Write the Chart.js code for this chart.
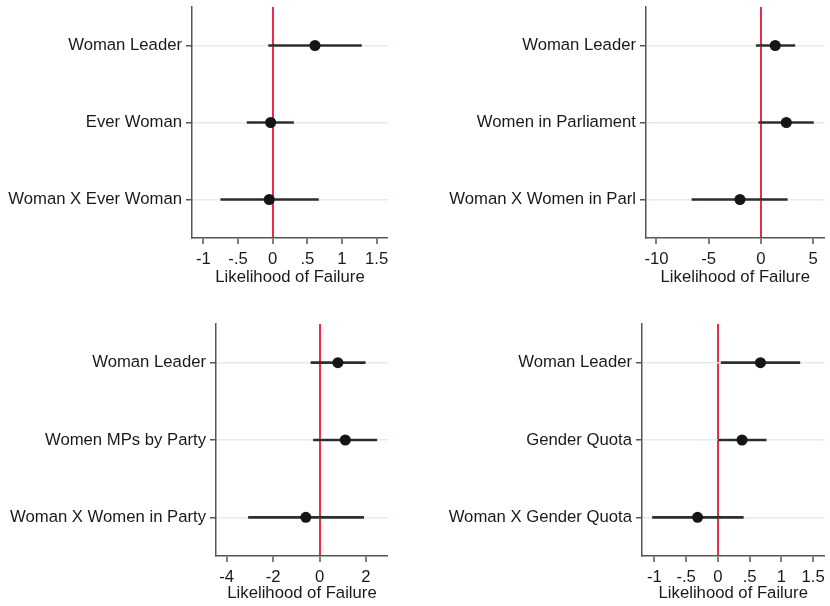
<!DOCTYPE html>
<html>
<head>
<meta charset="utf-8">
<script src="https://cdn.jsdelivr.net/npm/chart.js@4.4.1/dist/chart.umd.min.js"></script>
<style>
  html, body { margin: 0; padding: 0; background: #fff; }
  #wrap { position: relative; width: 830px; height: 606px; }
  #wrap canvas { position: absolute; }
</style>
</head>
<body>
<div id="wrap">
  <canvas id="c1" width="415" height="300" style="left:0;top:0"></canvas>
  <canvas id="c2" width="415" height="300" style="left:415px;top:0"></canvas>
  <canvas id="c3" width="415" height="306" style="left:0;top:300px"></canvas>
  <canvas id="c4" width="415" height="306" style="left:415px;top:300px"></canvas>
</div>
<script>
// --- data ---
const labels1 = ["Woman Leader", "Ever Woman", "Woman X Ever Woman"];
const est1 = [0.61, -0.03, -0.05];
const lo1  = [-0.06, -0.37, -0.75];
const hi1  = [1.28, 0.30, 0.66];
const ticks1 = [-1, -0.5, 0, 0.5, 1, 1.5];

const labels2 = ["Woman Leader", "Women in Parliament", "Woman X Women in Parl"];
const est2 = [1.38, 2.44, -2.0];
const lo2  = [-0.44, -0.19, -6.6];
const hi2  = [3.26, 5.04, 2.54];
const ticks2 = [-10, -5, 0, 5];

const labels3 = ["Woman Leader", "Women MPs by Party", "Woman X Women in Party"];
const est3 = [0.79, 1.11, -0.59];
const lo3  = [-0.37, -0.26, -3.06];
const hi3  = [1.97, 2.47, 1.90];
const ticks3 = [-4, -2, 0, 2];

const labels4 = ["Woman Leader", "Gender Quota", "Woman X Gender Quota"];
const est4 = [0.67, 0.38, -0.32];
const lo4  = [0.05, 0.005, -1.03];
const hi4  = [1.29, 0.76, 0.40];
const ticks4 = [-1, -0.5, 0, 0.5, 1, 1.5];

const xTitle = "Likelihood of Failure";

const FONT = "'Liberation Sans', Arial, sans-serif";
const TXT = "#1a1a1a";
const AXIS = "#555";
const RED = "#ec2a4b";
const GRID = "#e2eeee";
const MARK = "#151515";

const fmt = (v) => v === 0 ? "0" : String(v).replace(/^(-?)0\./, "$1.");

function coefPlot(id, labels, est, lo, hi, ticks, lay) {
  const ctx = document.getElementById(id).getContext("2d");
  const H = ctx.canvas.height, W = ctx.canvas.width;
  return new Chart(ctx, {
    type: "bar",
    data: {
      labels: labels,
      datasets: [{
        type: "bar",
        data: labels.map((_, i) => [lo[i], hi[i]]),
        backgroundColor: "#2e2e2e",
        barThickness: 2,
        borderWidth: 0,
        order: 2
      }, {
        type: "line",
        data: est,
        showLine: false,
        pointRadius: 5.5,
        pointBackgroundColor: MARK,
        pointBorderColor: MARK,
        pointBorderWidth: 0,
        order: 1
      }]
    },
    options: {
      indexAxis: "y",
      responsive: false,
      animation: false,
      layout: { padding: { left: 0, top: lay.top, right: W - lay.right, bottom: H - lay.scaleBottom } },
      plugins: { legend: { display: false }, tooltip: { enabled: false } },
      scales: {
        x: {
          type: "linear",
          min: lay.min, max: lay.max,
          afterBuildTicks: (s) => { s.ticks = ticks.map(v => ({ value: v })); },
          afterFit: (s) => { s.height = lay.scaleBottom - lay.bottom; s.paddingLeft = 0; s.paddingRight = 0; },
          border: { display: true, color: AXIS, width: 1.5 },
          grid: {
            color: (c) => c.tick && c.tick.value === 0 ? RED : "rgba(0,0,0,0)",
            lineWidth: (c) => c.tick && c.tick.value === 0 ? 2 : 0,
            tickColor: AXIS, tickLength: 6, tickWidth: 1.5
          },
          ticks: { color: TXT, font: { family: FONT, size: 16.7 }, padding: 5, maxRotation: 0, callback: (v) => fmt(v) },
          title: { display: true, text: xTitle, color: TXT, font: { family: FONT, size: 16.7 }, padding: 0 }
        },
        y: {
          type: "category",
          offset: true,
          afterFit: (s) => { s.width = lay.axisX; s.paddingTop = 0; s.paddingBottom = 0; },
          border: { display: true, color: AXIS, width: 1.5 },
          grid: { offset: false, color: GRID, lineWidth: 1.5, tickColor: AXIS, tickLength: 6, tickWidth: 1.5 },
          ticks: { color: TXT, font: { family: FONT, size: 16.7 }, padding: 4 }
        }
      }
    }
  });
}

coefPlot("c1", labels1, est1, lo1, hi1, ticks1,
  { axisX: 192, top: 7, right: 388, bottom: 238, scaleBottom: 287, min: -1.165, max: 1.664 });
coefPlot("c2", labels2, est2, lo2, hi2, ticks2,
  { axisX: 231, top: 7, right: 413, bottom: 238, scaleBottom: 287, min: -11.0, max: 6.1 });
coefPlot("c3", labels3, est3, lo3, hi3, ticks3,
  { axisX: 216, top: 24, right: 388, bottom: 256, scaleBottom: 303.5, min: -4.46, max: 2.95 });
coefPlot("c4", labels4, est4, lo4, hi4, ticks4,
  { axisX: 227, top: 24, right: 413, bottom: 256, scaleBottom: 303.5, min: -1.195, max: 1.678 });
</script>
</body>
</html>
